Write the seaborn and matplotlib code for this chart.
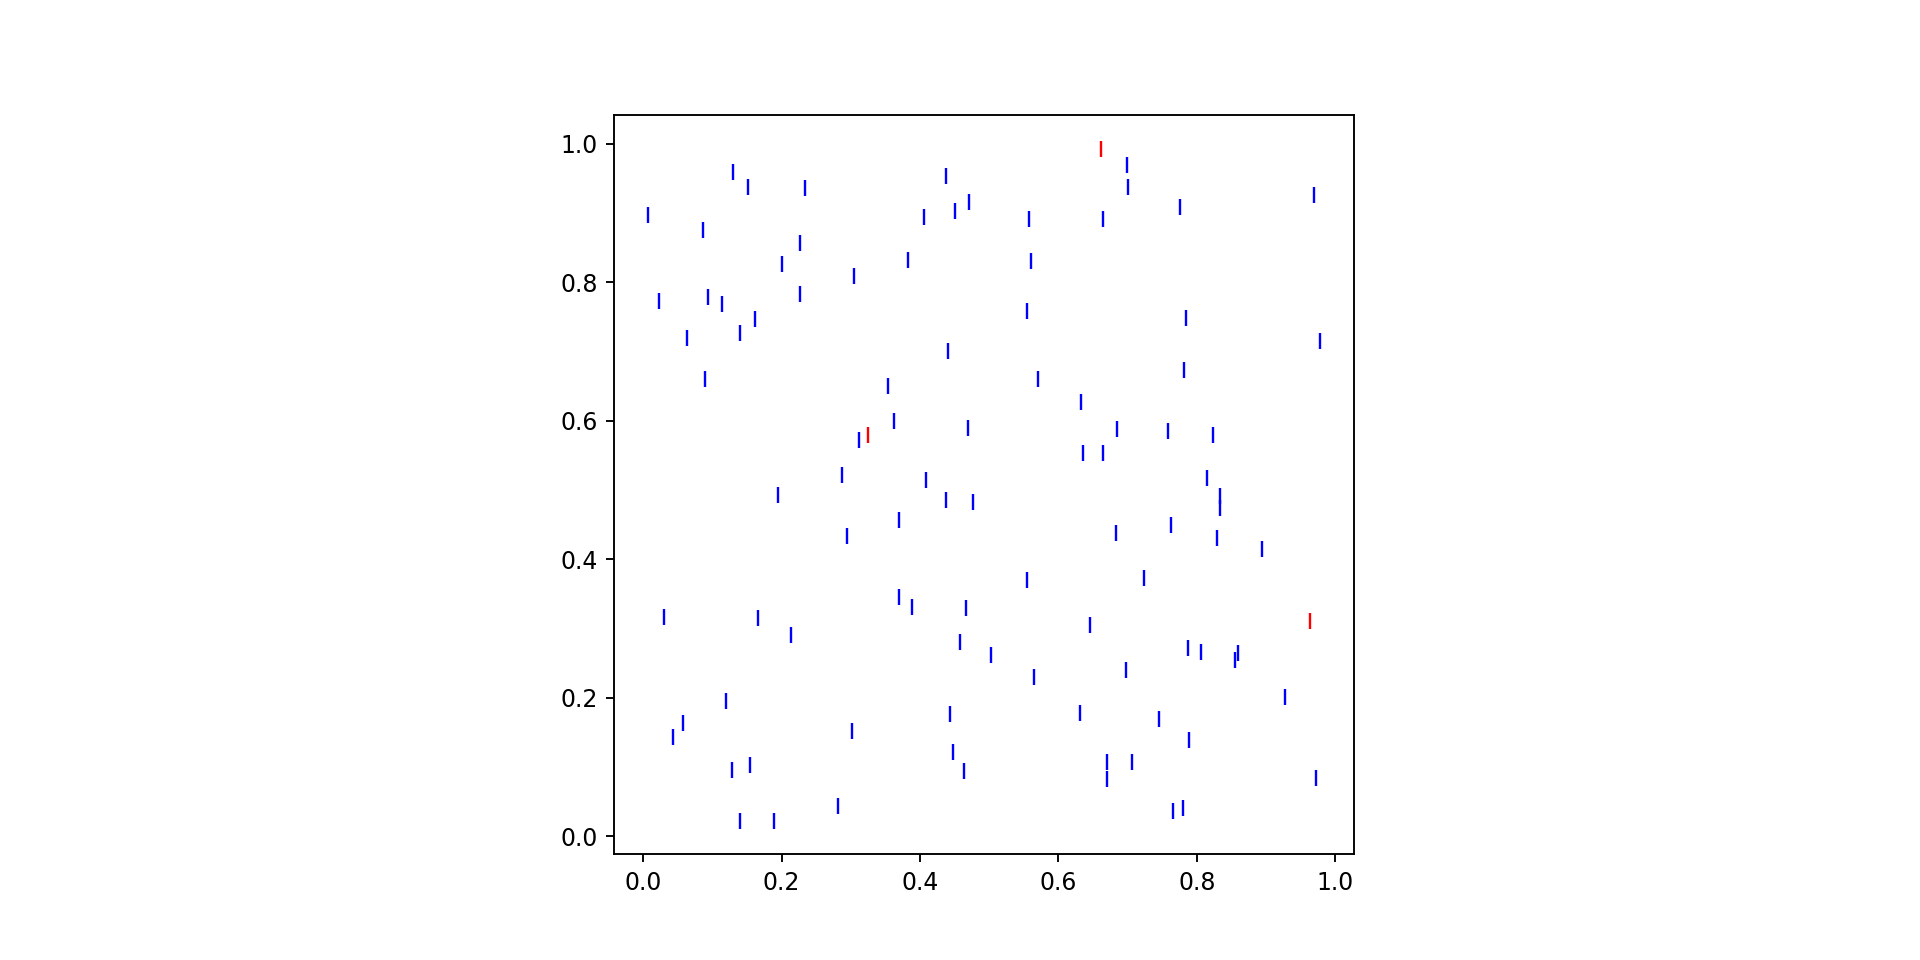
import numpy as np
import seaborn as sns
import matplotlib.pyplot as plt

plt.switch_backend('Agg')

# blue points
x_blue = [0.130, 0.152, 0.234, 0.007, 0.087, 0.227, 0.200, 0.304, 0.023, 0.094,
          0.114, 0.227, 0.161, 0.140, 0.064, 0.090, 0.312, 0.288, 0.195,
          0.294, 0.030, 0.166, 0.214, 0.119, 0.058, 0.043, 0.302, 0.129, 0.155,
          0.282, 0.140, 0.189,
          0.437, 0.406, 0.451, 0.471, 0.557, 0.665, 0.382, 0.560, 0.555, 0.440,
          0.570, 0.354, 0.632, 0.362, 0.470, 0.684, 0.635, 0.665, 0.409,
          0.437, 0.476, 0.370, 0.683, 0.554, 0.370, 0.388, 0.467, 0.645, 0.458,
          0.502, 0.565, 0.444, 0.631, 0.447, 0.463, 0.670, 0.670,
          0.699, 0.701, 0.775, 0.969, 0.784, 0.978, 0.781, 0.759, 0.823, 0.814,
          0.833, 0.833, 0.762, 0.829, 0.894, 0.723, 0.787, 0.806, 0.859, 0.855,
          0.697, 0.927, 0.745, 0.788, 0.706, 0.972, 0.765, 0.780]
y_blue = [0.960, 0.938, 0.937, 0.897, 0.876, 0.857, 0.826, 0.809, 0.773, 0.779,
          0.769, 0.783, 0.747, 0.727, 0.719, 0.661, 0.572, 0.521, 0.493,
          0.434, 0.317, 0.315, 0.291, 0.195, 0.163, 0.143, 0.152, 0.095, 0.102,
          0.043, 0.022, 0.022,
          0.954, 0.895, 0.903, 0.916, 0.892, 0.892, 0.832, 0.831, 0.758, 0.701,
          0.660, 0.650, 0.627, 0.599, 0.590, 0.588, 0.554, 0.554, 0.515,
          0.486, 0.482, 0.456, 0.438, 0.370, 0.346, 0.331, 0.330, 0.305, 0.281,
          0.262, 0.230, 0.176, 0.178, 0.121, 0.094, 0.107, 0.082,
          0.970, 0.938, 0.909, 0.926, 0.748, 0.716, 0.673, 0.585, 0.579, 0.518,
          0.491, 0.474, 0.449, 0.431, 0.415, 0.373, 0.272, 0.266, 0.265, 0.255,
          0.240, 0.201, 0.169, 0.139, 0.107, 0.084, 0.036, 0.040]

# red (highlighted) points
x_red = [0.325, 0.662, 0.963]
y_red = [0.580, 0.993, 0.310]

fig, ax = plt.subplots(figsize=(1920 / 170, 960 / 170), dpi=170)

sns.scatterplot(x=x_blue, y=y_blue, marker='|', color='blue', s=42, linewidth=1.0, ax=ax)
sns.scatterplot(x=x_red, y=y_red, marker='|', color='red', s=42, linewidth=1.0, ax=ax)

ax.set_aspect('equal')

plt.savefig('out.png', dpi=170)
plt.close()
